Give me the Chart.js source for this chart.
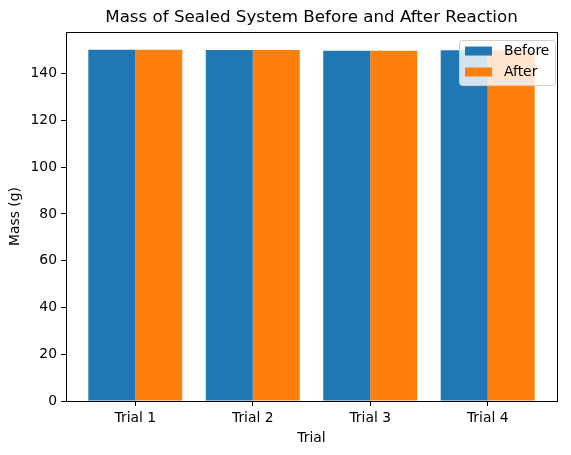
<!DOCTYPE html>
<html>
<head>
<meta charset="utf-8">
<script src="https://cdn.jsdelivr.net/npm/chart.js@4.4.0/dist/chart.umd.min.js"></script>
<style>
  html, body { margin: 0; padding: 0; background: #fff; }
  #wrap { width: 571px; height: 455px; position: relative; }
</style>
</head>
<body>
<div id="wrap"><canvas id="myChart"></canvas></div>
<script>
const categories = ['Trial 1', 'Trial 2', 'Trial 3', 'Trial 4'];
const beforeValues = [150.2, 150.1, 149.8, 150.0];
const afterValues = [150.2, 150.1, 149.8, 150.0];
const yTickValues = [0, 20, 40, 60, 80, 100, 120, 140];

const FONT = "'DejaVu Sans', sans-serif";
const TICK_SIZE = 13.9;

// center the title over the plot area, as matplotlib does
const titleOverPlot = {
  id: 'titleOverPlot',
  afterLayout(chart) {
    const t = chart.titleBlock;
    if (t) {
      t.left = chart.chartArea.left;
      t.right = chart.chartArea.right;
      t.width = t.right - t.left;
    }
  }
};

// box round the plot area, like matplotlib spines
const framePlugin = {
  id: 'frame',
  afterDatasetsDraw(chart) {
    const { ctx, chartArea: a } = chart;
    ctx.save();
    ctx.strokeStyle = '#000';
    ctx.lineWidth = 1;
    ctx.strokeRect(Math.round(a.left) + 0.5, Math.round(a.top) + 0.5,
      Math.round(a.right - a.left), Math.round(a.bottom - a.top));
    ctx.restore();
  }
};

// legend inside the plot, upper right
const boxLegend = {
  id: 'boxLegend',
  afterDraw(chart) {
    const { ctx, chartArea: a } = chart;
    const sets = chart.data.datasets;
    const w = 96, rowH = 21, h = 45;
    const x = a.right - w - 2, y = a.top + 8;
    ctx.save();
    ctx.beginPath();
    ctx.roundRect(x + 0.5, y + 0.5, w, h, 3);
    ctx.fillStyle = 'rgba(255,255,255,0.8)';
    ctx.fill();
    ctx.strokeStyle = '#cccccc';
    ctx.lineWidth = 1;
    ctx.stroke();
    ctx.font = TICK_SIZE + 'px ' + FONT;
    ctx.textBaseline = 'middle';
    sets.forEach((ds, i) => {
      const cy = y + 11 + i * rowH;
      ctx.fillStyle = ds.backgroundColor;
      ctx.fillRect(x + 6, cy - 4.5, 27, 9);
      ctx.fillStyle = '#000';
      ctx.fillText(ds.label, x + 45, cy);
    });
    ctx.restore();
  }
};

const ctx = document.getElementById('myChart');

new Chart(ctx, {
  type: 'bar',
  data: {
    datasets: [
      {
        label: 'Before',
        data: beforeValues.map((v, i) => ({ x: i, y: v })),
        backgroundColor: '#1f77b4'
      },
      {
        label: 'After',
        data: afterValues.map((v, i) => ({ x: i, y: v })),
        backgroundColor: '#ff7f0e'
      }
    ]
  },
  options: {
    responsive: true,
    maintainAspectRatio: false,
    animation: false,
    categoryPercentage: 0.8,
    barPercentage: 1.0,
    layout: { padding: { left: 0, right: 14, top: 0, bottom: 0 } },
    scales: {
      x: {
        type: 'linear',
        min: -0.59,
        max: 3.59,
        offset: false,
        afterBuildTicks(scale) {
          scale.ticks = categories.map((c, i) => ({ value: i }));
        },
        afterFit(scale) { scale.height = 54; },
        grid: { offset: false, drawOnChartArea: false, drawTicks: true, tickLength: 5, color: '#000' },
        border: { display: false },
        ticks: {
          color: '#000',
          padding: 4,
          maxRotation: 0,
          font: { family: FONT, size: TICK_SIZE },
          callback: (v) => categories[v]
        },
        title: {
          display: true,
          text: 'Trial',
          color: '#000',
          font: { family: FONT, size: TICK_SIZE },
          padding: { top: 2, bottom: 8 }
        }
      },
      y: {
        min: 0,
        max: 157.8,
        afterBuildTicks(scale) {
          scale.ticks = yTickValues.map(v => ({ value: v }));
        },
        afterFit(scale) { scale.width = 66; },
        grid: { offset: false, drawOnChartArea: false, drawTicks: true, tickLength: 5, color: '#000' },
        border: { display: false },
        ticks: {
          color: '#000',
          padding: 4,
          font: { family: FONT, size: TICK_SIZE }
        },
        title: {
          display: true,
          text: 'Mass (g)',
          color: '#000',
          font: { family: FONT, size: TICK_SIZE },
          padding: { top: 7, bottom: 0 }
        }
      }
    },
    plugins: {
      legend: { display: false },
      tooltip: { enabled: false },
      title: {
        display: true,
        text: 'Mass of Sealed System Before and After Reaction',
        color: '#000',
        font: { family: FONT, size: 16.7, weight: 'normal' },
        padding: { top: 8, bottom: 4 }
      }
    }
  },
  plugins: [titleOverPlot, framePlugin, boxLegend]
});
</script>
</body>
</html>
